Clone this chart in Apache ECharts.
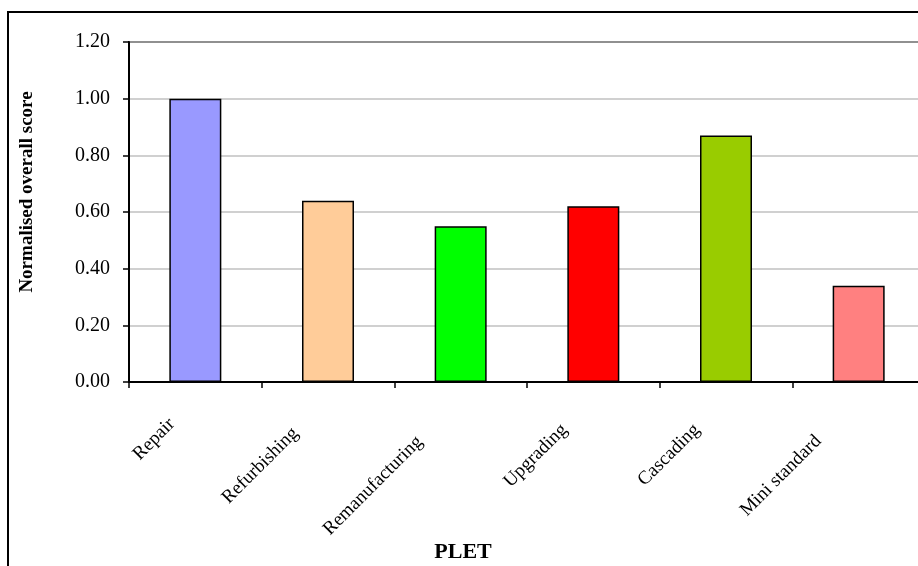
<!DOCTYPE html>
<html>
<head>
<meta charset="utf-8">
<script src="https://cdn.jsdelivr.net/npm/echarts@6/dist/echarts.min.js"></script>
<style>
html,body{margin:0;padding:0;background:#fff;overflow:hidden;}
#chart{width:940px;height:566px;}
</style>
</head>
<body>
<div id="chart"></div>
<script>
// Data
const categories = ['Repair', 'Refurbishing', 'Remanufacturing', 'Upgrading', 'Cascading', 'Mini standard'];
const scores = [1.00, 0.64, 0.55, 0.62, 0.87, 0.34];
const yTicks = [0, 0.2, 0.4, 0.6, 0.8, 1.0, 1.2];
const xTitle = 'PLET';
const yTitle = 'Normalised overall score';

// Styles
const barColors = ['#9999FF', '#FFCC99', '#00FF00', '#FF0000', '#99CC00', '#FF8080'];
const labelPad = [33, 46, 58, 41, 41, 57];
const serif = '"Times New Roman", "Liberation Serif", serif';

const chart = echarts.init(document.getElementById('chart'));
chart.setOption({
  animation: false,
  backgroundColor: '#fff',
  grid: {
    left: 129, top: 42, width: 796, height: 340,
    show: true, borderColor: '#000', borderWidth: 2, backgroundColor: 'transparent'
  },
  xAxis: {
    type: 'category',
    data: categories.map((c, i) => ({ value: c, textStyle: { padding: [0, labelPad[i], 0, 0] } })),
    axisLine: { lineStyle: { color: '#000', width: 2 } },
    axisTick: { show: true, length: 6, lineStyle: { color: '#000', width: 1.5 } },
    axisLabel: { rotate: 45, margin: 16, interval: 0, color: '#000', fontFamily: serif, fontSize: 19 },
    splitLine: { show: false }
  },
  yAxis: {
    type: 'value',
    min: yTicks[0], max: yTicks[yTicks.length - 1], interval: 0.2,
    axisLine: { show: true, lineStyle: { color: '#000', width: 2 } },
    axisTick: { show: true, length: 6, lineStyle: { color: '#000', width: 1.5 } },
    axisLabel: { margin: 19, color: '#000', fontFamily: serif, fontSize: 20, formatter: v => v.toFixed(2) },
    splitLine: { show: true, lineStyle: { color: '#c0c0c0', width: 1.5 } }
  },
  graphic: [
    { type: 'rect', shape: { x: 8, y: 12, width: 1000, height: 1000 }, style: { fill: 'none', stroke: '#000', lineWidth: 2 }, z: 100 },
    { type: 'text', x: 27, y: 192, rotation: Math.PI / 2, style: { text: yTitle, font: 'bold 19px ' + serif, fill: '#000', align: 'center', verticalAlign: 'middle' } },
    { type: 'text', x: 463, y: 541, style: { text: xTitle, font: 'bold 22px ' + serif, fill: '#000', align: 'center', verticalAlign: 'top' } }
  ],
  series: [{
    type: 'bar',
    barWidth: 52,
    data: scores.map((v, i) => ({ value: v, itemStyle: { color: barColors[i] } })),
    itemStyle: { borderColor: '#000', borderWidth: 1.5 }
  }]
});
</script>
</body>
</html>
